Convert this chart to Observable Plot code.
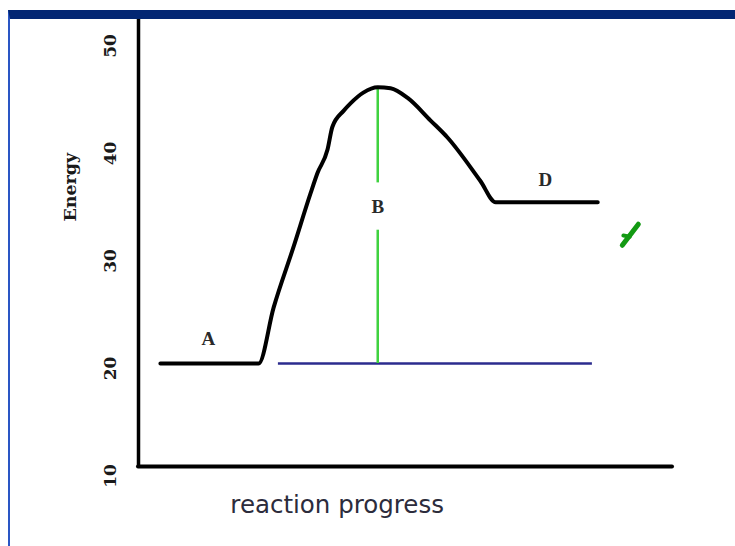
<!DOCTYPE html>
<html>
<head>
<meta charset="utf-8">
<script src="https://cdn.jsdelivr.net/npm/d3@7"></script>
<script src="https://cdn.jsdelivr.net/npm/@observablehq/plot@0.6"></script>
<style>
  html, body { margin: 0; padding: 0; background: #fff; }
  #wrap { position: relative; width: 735px; height: 546px; overflow: hidden; }
  #chart { position: absolute; left: 0; top: 0; }
  #frame {
    position: absolute; left: 8px; top: 10px; width: 727px; height: 536px;
    border-top: 9px solid #022673; border-left: 2px solid #2a56c4;
    box-sizing: border-box; pointer-events: none;
  }
</style>
</head>
<body>
<div id="wrap"><div id="chart"></div><div id="frame"></div></div>
<script>
// Energy profile of a reaction: reactants (A), transition state (B), products (D)
const yTicks = [10, 20, 30, 40, 50];
const progress = [4.1, 22.5, 25.3, 29.0, 32.2, 33.5, 35.4, 36.3, 38.4, 39.7, 42.1, 44.8, 47.2, 50.4, 54.7, 57.9, 64.0, 66.9, 86.0];
const energy   = [20,  20,   25.2, 30.8, 35.8, 37.7, 39.9, 42.0, 43.5, 44.2, 45.2, 45.7, 45.6, 44.7, 42.6, 41.0, 37.0, 35.0, 35.0];

// Reactant energy reference line and activation-energy bar
const reactantLevel = 20;
const baseStart = 26.2, baseEnd = 85.0;
const peakProgress = 44.8, peakEnergy = 45.7;

// State labels
const stateNames = ["A", "B", "D"];
const stateX = [13.1, 44.8, 76.2];
const stateY = [22.3, 34.6, 37.1];

// Tick mark beside the products level
const checkX = [90.6, 93.6];
const checkY = [31.0, 32.96];
const nubX = [90.8, 92.0];
const nubY = [31.9, 31.8];

const curve = progress.map((x, i) => ({x, y: energy[i]}));
const states = stateNames.map((s, i) => ({s, x: stateX[i], y: stateY[i]}));
const check = checkX.map((x, i) => ({x, y: checkY[i]}));
const nub = nubX.map((x, i) => ({x, y: nubY[i]}));

const labelB = states.find(d => d.s === "B");
const gap = 2.2;

const serif = "DejaVu Serif, serif";

const chart = Plot.plot({
  width: 735,
  height: 546,
  marginLeft: 138,
  marginRight: 63,
  marginTop: 40.5,
  marginBottom: 75.5,
  style: {background: "transparent", overflow: "visible"},
  x: {domain: [0, 100], axis: null},
  y: {domain: [10, 50], axis: null},
  marks: [
    // axes drawn as heavy hand-style lines
    Plot.ruleX([0], {y1: 10, y2: 51.9, stroke: "#000", strokeWidth: 3.5, dy: -4.5, strokeLinecap: "round"}),
    Plot.ruleY([10], {x1: 0, x2: 100, stroke: "#000", strokeWidth: 4, dy: -4.5, strokeLinecap: "round"}),
    Plot.text(yTicks, {
      y: d => d, text: d => String(d), frameAnchor: "left", textAnchor: "middle",
      dx: -28, dy: 5, rotate: -90, fontFamily: serif, fontSize: 17, fontWeight: "bold", fill: "#1a1a1a"
    }),
    Plot.text(["Energy"], {
      y: 36.4, frameAnchor: "left", textAnchor: "middle", dx: -68, rotate: -90,
      fontFamily: serif, fontSize: 17.5, fontWeight: "bold", fill: "#1a1a1a"
    }),
    Plot.text(["reaction progress"], {
      x: 37.2, frameAnchor: "bottom", dy: 41.5,
      fontFamily: "DejaVu Sans, sans-serif", fontSize: 24.5, fill: "#2c2c3c"
    }),
    // reactant energy reference
    Plot.ruleY([reactantLevel], {x1: baseStart, x2: baseEnd, stroke: "#2b2b8e", strokeWidth: 2.5}),
    // activation energy bar, broken around its label
    Plot.ruleX([peakProgress], {y1: reactantLevel, y2: labelB.y - gap, stroke: "#3fd23f", strokeWidth: 2.5}),
    Plot.ruleX([peakProgress], {y1: labelB.y + gap, y2: peakEnergy, stroke: "#3fd23f", strokeWidth: 2.5}),
    // energy curve
    Plot.line(curve, {x: "x", y: "y", curve: "monotone-x", stroke: "#000", strokeWidth: 4, strokeLinejoin: "round", strokeLinecap: "round"}),
    Plot.text(states, {x: "x", y: "y", text: "s", fontFamily: "Liberation Serif, serif", fontSize: 19, fontWeight: "bold", fill: "#2a2a2a"}),
    Plot.line(check, {x: "x", y: "y", stroke: "#139a13", strokeWidth: 5, strokeLinecap: "round"}),
    Plot.line(nub, {x: "x", y: "y", stroke: "#139a13", strokeWidth: 4, strokeLinecap: "round"})
  ]
});
document.getElementById("chart").appendChild(chart);
</script>
</body>
</html>
